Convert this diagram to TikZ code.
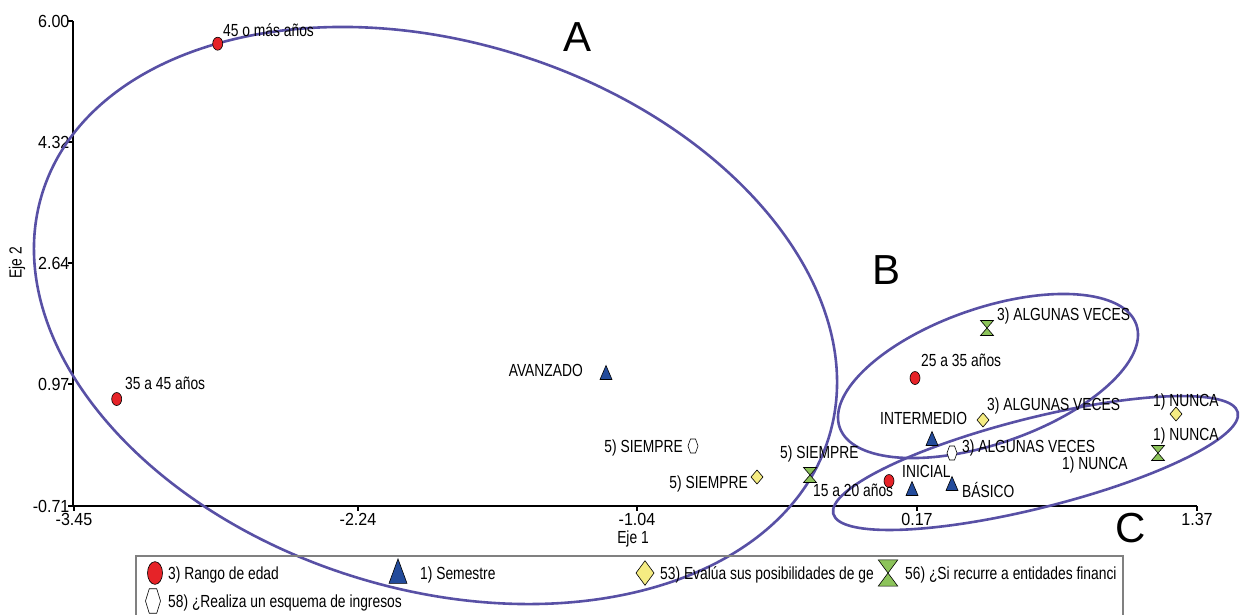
\documentclass[tikz,border=0pt]{standalone}
\usepackage{fontspec}
\setmainfont[FakeStretch=0.79]{Liberation Sans}
\newfontfamily\grupofont{Liberation Sans}
\newfontfamily\tickfont[FakeStretch=0.92]{Liberation Sans}
\usetikzlibrary{calc}

\definecolor{edadred}{RGB}{230,35,40}
\definecolor{semblue}{RGB}{35,75,155}
\definecolor{evalyellow}{RGB}{245,236,130}
\definecolor{credgreen}{RGB}{140,195,90}
\definecolor{grupo}{RGB}{88,80,165}
\definecolor{legframe}{RGB}{128,128,128}

\newcommand\plotfont{\fontsize{17.5}{20}\selectfont}

\tikzset{
  mark line/.style={draw=black, line width=0.6pt, line join=miter},
  edad/.pic={\path[mark line, fill=edadred] (0,0) ellipse [x radius=5pt, y radius=6.5pt];},
  semestre/.pic={\path[mark line, fill=semblue] (0,-7.5) -- (6,6.5) -- (-6,6.5) -- cycle;},
  evalua/.pic={\path[mark line, fill=evalyellow] (0,-7) -- (6,0) -- (0,7) -- (-6,0) -- cycle;},
  recurre/.pic={\path[mark line, fill=credgreen] (-6.5,-7.5) -- (6.5,-7.5) -- (0,0)
    -- (6.5,7.5) -- (-6.5,7.5) -- (0,0) -- cycle;},
  esquema/.pic={\path[mark line, fill=white] (-5,0) -- (-2.5,-7) -- (2.5,-7) -- (5,0)
    -- (2.5,7) -- (-2.5,7) -- cycle;},
}

\begin{document}
\begin{tikzpicture}[
    x=1pt, y=-1pt,
    every node/.style={font=\plotfont, inner sep=0pt},
    lbl/.style={text height=12.5pt, text depth=0pt},
    tick/.style={font=\tickfont\plotfont},
    grupo line/.style={draw=grupo, line width=2.6pt},
    grupo letter/.style={font=\grupofont\fontsize{42}{46}\selectfont},
  ]
  \useasboundingbox (0,0) rectangle (1241,614);

  % axes
  \begin{scope}[line width=1.1pt]
    \draw (73,21) -- (73,506) -- (1197,506);
    \foreach \v/\y in {6.00/21, 4.32/142, 2.64/263, 0.97/384, -0.71/506}
      \draw (68,\y) -- (73,\y) node[tick, anchor=east, xshift=-3pt] {\v};
    \foreach \v/\x in {-3.45/74, -2.24/358, -1.04/637, 0.17/917, 1.37/1197}
      \draw (\x,506) -- (\x,511) node[tick, anchor=north, yshift=-2pt] {\v};
  \end{scope}
  \node (eje1) at (633,539) {Eje 1};
  \node[rotate=90] (eje2) at (17,263) {Eje 2};

  % groups
  \draw[grupo line, rotate around={-17.3:(435.5,315.5)}]
    (435.5,315.5) ellipse [x radius=411.8pt, y radius=273.6pt];
  \draw[grupo line, rotate around={19.1:(988,376)}]
    (988,376) ellipse [x radius=157pt, y radius=67.7pt];
  \draw[grupo line, rotate around={14.1:(1035.5,463)}]
    (1035.5,463) ellipse [x radius=208.5pt, y radius=45pt];
  \node[grupo letter] (grupoA) at (577,37) {A};
  \node[grupo letter] (grupoB) at (886,270) {B};
  \node[grupo letter] (grupoC) at (1131,528) {C};

  % points
  \pic (edad45)  at (217.7,43.7) {edad};
  \pic (edad35)  at (116.7,399)  {edad};
  \pic (edad25)  at (915,378)    {edad};
  \pic (edad15)  at (889,481)    {edad};
  \pic (semAv)   at (606,373)    {semestre};
  \pic (semInt)  at (932,439)    {semestre};
  \pic (semIni)  at (912,489)    {semestre};
  \pic (semBas)  at (952,484)    {semestre};
  \pic (evalS)   at (757,477)    {evalua};
  \pic (evalA)   at (983,420)    {evalua};
  \pic (evalN)   at (1176,414)   {evalua};
  \pic (credS)   at (810,475)    {recurre};
  \pic (credA)   at (987,328)    {recurre};
  \pic (credN)   at (1158,453)   {recurre};
  \pic (esqS)    at (693,446)    {esquema};
  \pic (esqA)    at (952,453)    {esquema};

  \node[lbl, anchor=west] (t-edad45) at (223,30)  {45 o más años};
  \node[lbl, anchor=west] (t-edad35) at (125,383) {35 a 45 años};
  \node[lbl, anchor=west] (t-edad25) at (921,360) {25 a 35 años};
  \node[lbl, anchor=west] (t-edad15) at (813,490) {15 a 20 años};
  \node[lbl, anchor=east] (t-semAv)  at (583,370) {AVANZADO};
  \node[lbl, anchor=west] (t-semInt) at (880,418) {INTERMEDIO};
  \node[lbl, anchor=west] (t-semIni) at (902,471) {INICIAL};
  \node[lbl, anchor=west] (t-semBas) at (962,491) {BÁSICO};
  \node[lbl, anchor=east] (t-evalS)  at (748,482) {5) SIEMPRE};
  \node[lbl, anchor=west] (t-evalA)  at (987,404) {3) ALGUNAS VECES};
  \node[lbl, anchor=west] (t-evalN)  at (1153,400) {1) NUNCA};
  \node[lbl, anchor=west] (t-credS)  at (780,452) {5) SIEMPRE};
  \node[lbl, anchor=west] (t-credA)  at (997,314) {3) ALGUNAS VECES};
  \node[lbl, anchor=west] (t-credN)  at (1153,434) {1) NUNCA};
  \node[lbl, anchor=east] (t-esqS)   at (683,446) {5) SIEMPRE};
  \node[lbl, anchor=west] (t-esqA)   at (962,446) {3) ALGUNAS VECES};
  \node[lbl, anchor=west] (t-esqN)   at (1062,463) {1) NUNCA};

  % legend
  \draw[legframe, line width=1.6pt] (136,556) rectangle (1123,620);
  \begin{scope}[every pic/.style={xscale=1.5, yscale=1.75}]
    \pic (leg-edad) at (155,573) {edad};
    \pic (leg-sem)  at (398,572) {semestre};
    \pic (leg-eval) at (645,573) {evalua};
    \pic (leg-cred) at (888,573) {recurre};
    \pic (leg-esq)  at (153,601) {esquema};
  \end{scope}
  \node[lbl, anchor=west] (l-edad) at (168,573) {3) Rango de edad};
  \node[lbl, anchor=west] (l-sem)  at (420,573) {1) Semestre};
  \node[lbl, anchor=west] (l-eval) at (660,573) {53) Evalúa sus posibilidades de ge};
  \node[lbl, anchor=west] (l-cred) at (905,573) {56) ¿Si recurre a entidades financi};
  \node[lbl, anchor=west] (l-esq)  at (168,601) {58) ¿Realiza un esquema de ingresos};
\end{tikzpicture}
\end{document}
